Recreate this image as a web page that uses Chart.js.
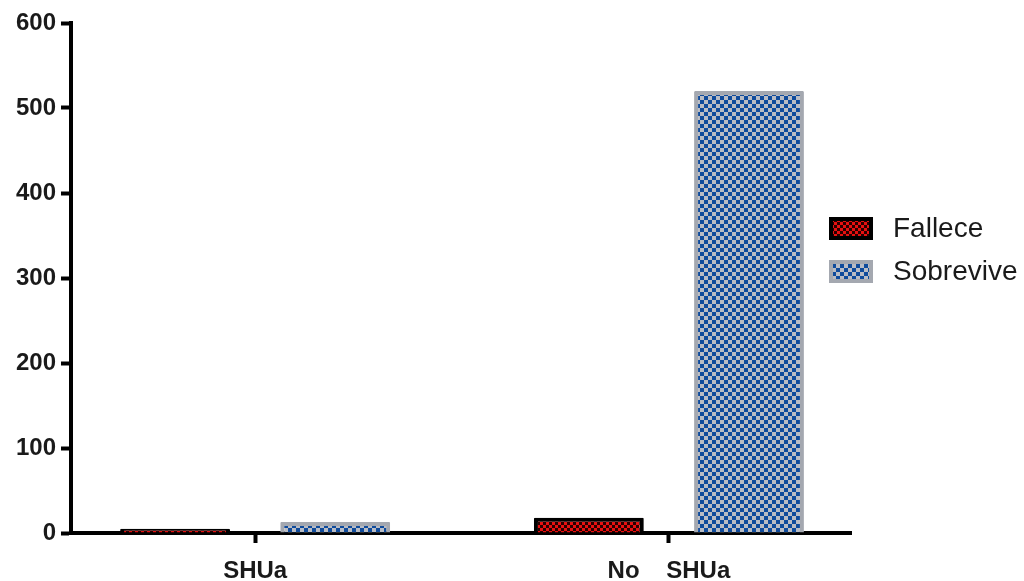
<!DOCTYPE html>
<html>
<head>
<meta charset="utf-8">
<script src="https://cdn.jsdelivr.net/npm/chart.js@4.4.1/dist/chart.umd.min.js"></script>
<style>
    html, body { margin: 0; padding: 0; background: #fff; }
    #wrap { width: 1024px; height: 581px; position: relative; }
</style>
</head>
<body>
<div id="wrap"><canvas id="grafico"></canvas></div>
<script>
// valori
var categorie   = [ "SHUa", "No    SHUa" ],
    fallece     = [ 5, 18 ],
    sobrevive   = [ 13, 520 ],
    tick_y      = [ 0, 100, 200, 300, 400, 500, 600 ],
    nomi_serie  = [ "Fallece", "Sobrevive" ];

var ctx = document.getElementById( "grafico" ).getContext( "2d" );

function scacchiera( c1, c2, lato )
{
    var cv = document.createElement( "canvas" );
    cv.width = cv.height = lato * 2;
    var g = cv.getContext( "2d" );
    g.fillStyle = c2;
    g.fillRect( 0, 0, lato * 2, lato * 2 );
    g.fillStyle = c1;
    g.fillRect( 0, 0, lato, lato );
    g.fillRect( lato, lato, lato, lato );
    return ctx.createPattern( cv, "repeat" );
}

var motivo_rosso = scacchiera( "#e81010", "#2a0000", 3 ),
    motivo_blu   = scacchiera( "#0f4b9c", "#b9bcc4", 4 );

var punti = function ( valori ) {
    return valori.map( function ( v, i ) { return { x: i, y: v }; } );
};

// legenda disegnata a mano per poterla sovrapporre come nell'originale
var legendaPlugin = {
    id: "legendaManuale",
    afterDraw: function ( chart ) {
        var c = chart.ctx;
        chart.data.datasets.forEach( function ( ds, i ) {
            var y = 217 + i * 43;
            c.save();
            c.fillStyle = ds.backgroundColor;
            c.fillRect( 829, y, 44, 23 );
            c.lineWidth = 4;
            c.strokeStyle = ds.borderColor;
            c.strokeRect( 831, y + 2, 40, 19 );
            c.fillStyle = "#1a1a1a";
            c.font = "28px 'Liberation Sans', Arial, sans-serif";
            c.textBaseline = "middle";
            c.fillText( ds.label, 893, y + 12 );
            c.restore();
        } );
    }
};

new Chart( ctx, {
    type: "bar",
    data: {
        datasets: [
            { label: nomi_serie[0], data: punti( fallece ),   backgroundColor: motivo_rosso, borderColor: "#000000", borderWidth: 4, borderRadius: 1 },
            { label: nomi_serie[1], data: punti( sobrevive ), backgroundColor: motivo_blu,   borderColor: "#a4a8b0", borderWidth: 4, borderRadius: 1 }
        ]
    },
    options: {
        responsive: true,
        maintainAspectRatio: false,
        animation: false,
        categoryPercentage: 0.774,
        barPercentage: 0.686,
        layout: { padding: { top: 23, right: 173, left: 0, bottom: 0 } },
        plugins: {
            legend: { display: false },
            tooltip: { enabled: false }
        },
        scales: {
            x: {
                type: "linear",
                min: -0.445,
                max: 1.44,
                offset: false,
                afterBuildTicks: function ( s ) {
                    s.ticks = categorie.map( function ( c, i ) { return { value: i }; } );
                },
                afterFit: function ( s ) { s.height = 48; },
                ticks: {
                    callback: function ( v ) { return categorie[v]; },
                    autoSkip: false,
                    maxRotation: 0,
                    padding: 14,
                    color: "#1a1a1a",
                    font: { family: "'Liberation Sans', Arial, sans-serif", size: 24, weight: "bold" }
                },
                grid: { offset: false, drawOnChartArea: false, drawTicks: true, tickLength: 10, tickWidth: 4, tickColor: "#000" },
                border: { color: "#000", width: 4 }
            },
            y: {
                min: 0,
                max: 600,
                afterBuildTicks: function ( s ) {
                    s.ticks = tick_y.map( function ( v ) { return { value: v }; } );
                },
                afterFit: function ( s ) { s.width = 71; },
                ticks: {
                    padding: 5,
                    color: "#1a1a1a",
                    font: { family: "'Liberation Sans', Arial, sans-serif", size: 24, weight: "bold" }
                },
                grid: { drawOnChartArea: false, drawTicks: true, tickLength: 10, tickWidth: 4, tickColor: "#000" },
                border: { color: "#000", width: 4 }
            }
        }
    },
    plugins: [ legendaPlugin ]
} );
</script>
</body>
</html>
